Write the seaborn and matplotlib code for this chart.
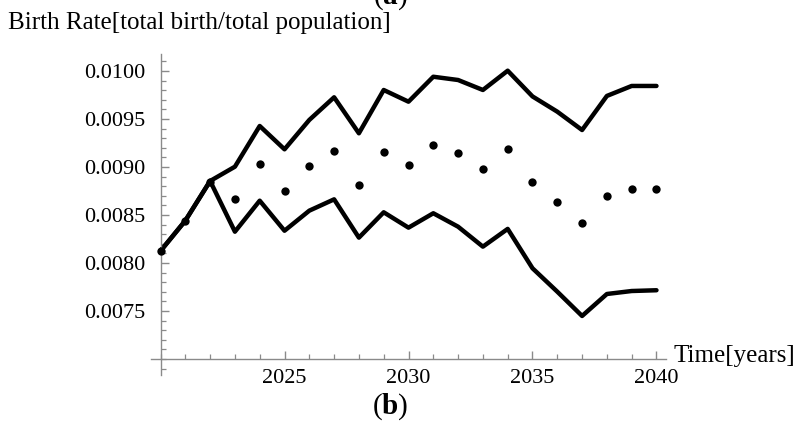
import numpy as np
import pandas as pd
import matplotlib
matplotlib.use("Agg")
import matplotlib.pyplot as plt
from matplotlib.ticker import MultipleLocator, FixedLocator, FormatStrFormatter
import seaborn as sns

years = list(range(2020, 2041))
upper = [0.008125, 0.008441, 0.008854, 0.009003, 0.009427, 0.009184, 0.009490,
         0.009726, 0.009351, 0.009802, 0.009680, 0.009940, 0.009906, 0.009802,
         0.010003, 0.009735, 0.009576, 0.009385, 0.009740, 0.009844, 0.009844]
mean = [0.008125, 0.008441, 0.008847, 0.008663, 0.009031, 0.008753, 0.009014,
        0.009170, 0.008813, 0.009160, 0.009020, 0.009230, 0.009143, 0.008982,
        0.009188, 0.008840, 0.008632, 0.008420, 0.008700, 0.008774, 0.008774]
lower = [0.008125, 0.008441, 0.008854, 0.008326, 0.008649, 0.008336, 0.008545,
         0.008663, 0.008264, 0.008528, 0.008368, 0.008518, 0.008378, 0.008170,
         0.008355, 0.007945, 0.007701, 0.007448, 0.007677, 0.007708, 0.007716]
y_major = [0.0075, 0.0080, 0.0085, 0.0090, 0.0095, 0.0100]
x_major = [2025, 2030, 2035, 2040]

sns.set_theme(style="white")
plt.rcParams['font.family'] = ['Liberation Serif', 'DejaVu Serif']
plt.rcParams['mathtext.fontset'] = 'custom'
plt.rcParams['mathtext.rm'] = 'Liberation Serif'
plt.rcParams['mathtext.bf'] = 'Liberation Serif:bold'

bands = pd.DataFrame({
    "year": years * 2,
    "rate": upper + lower,
    "band": ["upper"] * len(years) + ["lower"] * len(years),
})
dots = pd.DataFrame({"year": years, "rate": mean})

fig = plt.figure(figsize=(7.99, 4.30), dpi=100)
ax = fig.add_axes([150.6 / 799, (430 - 375.3) / 430, 515.8 / 799, 321.6 / 430])

sns.lineplot(data=bands, x="year", y="rate", units="band", estimator=None,
             color="black", linewidth=3.2, ax=ax, legend=False)
sns.scatterplot(data=dots, x="year", y="rate", color="black", s=36,
                edgecolor="black", linewidth=0, ax=ax, legend=False, zorder=3)

ax.set_xlim(2019.6, 2040.4)
ax.set_ylim(0.00683, 0.01018)

for s in ["top", "right"]:
    ax.spines[s].set_visible(False)
ax.spines["left"].set_position(("data", 2020))
ax.spines["bottom"].set_position(("data", 0.0070))
for s in ["left", "bottom"]:
    ax.spines[s].set_color("#8a8a8a")
    ax.spines[s].set_linewidth(1.0)

ax.yaxis.set_major_locator(FixedLocator(y_major))
ax.yaxis.set_major_formatter(FormatStrFormatter("%.4f"))
ax.yaxis.set_minor_locator(FixedLocator(np.round(np.arange(0.0069, 0.01015, 0.0001), 5)))
ax.xaxis.set_major_locator(FixedLocator(x_major))
ax.xaxis.set_minor_locator(MultipleLocator(1))

ax.tick_params(axis="both", which="major", direction="in", length=6, width=1.0,
               color="#8a8a8a", labelsize=16, labelcolor="black")
ax.tick_params(axis="both", which="minor", direction="in", length=3.5, width=0.9,
               color="#8a8a8a")
ax.tick_params(axis="y", which="major", pad=11)
ax.tick_params(axis="x", which="major", pad=7)
ax.tick_params(axis="y", which="both", left=True)
ax.tick_params(axis="x", which="both", bottom=True)

ax.set_xlabel("")
ax.set_ylabel("")

fig.text(8 / 799, 1 - 23 / 430, "Birth Rate[total birth/total population]",
         fontsize=18, va="center", ha="left", color="black")
fig.text(674 / 799, 1 - 356 / 430, "Time[years]", fontsize=18,
         va="center", ha="left", color="black")
fig.text(390 / 799, 1 - 407 / 430, r"($\mathbf{b}$)", fontsize=21,
         va="center", ha="center", color="black")
fig.text(390 / 799, 1 - 4 / 430, r"($\mathbf{a}$)", fontsize=21,
         va="baseline", ha="center", color="black")

fig.savefig("out.png", dpi=100)
